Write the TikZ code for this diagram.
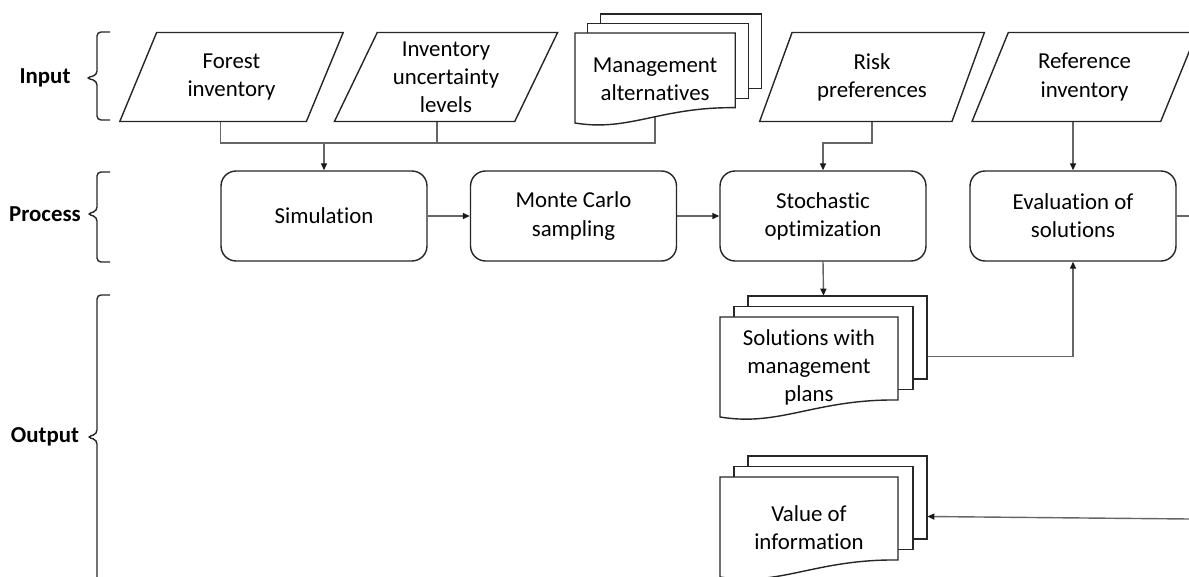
\documentclass[tikz,border=0pt]{standalone}
\usepackage{fontspec}
\setmainfont{Carlito}[Ligatures=NoCommon]
\usetikzlibrary{shapes.geometric,arrows.meta,fit,backgrounds}

\newcommand*{\xMax}{1189}
\newcommand*{\yMax}{577}

\tikzset{
  every node/.style={font=\fontsize{13}{16}\selectfont},
  inbox/.style={trapezium, trapezium left angle=65, trapezium right angle=115,
    trapezium stretches, draw=black!85, line width=0.8pt,
    minimum width=4.5cm, minimum height=1.78cm, align=center, inner sep=0pt},
  procbox/.style={rectangle, rounded corners=0.3cm, draw=black!85, line width=0.8pt,
    minimum width=4.12cm, minimum height=1.8cm, align=center},
  docline/.style={draw=black!85, line width=0.8pt, fill=white},
  doctext/.style={inner sep=0pt, align=center, yshift=-0.17cm},
  conn/.style={draw=black!60, line width=0.8pt},
  arr/.style={conn, -{Triangle[length=1.4mm,width=1.2mm,color=black!90]}},
  rowlabel/.style={font=\fontsize{13}{16}\selectfont\bfseries},
  bracket/.style={draw=black!85, line width=0.8pt, rounded corners=0.08cm},
}

% stack of documents: name, x, y (front top left), scale, text
\newcommand*{\docstack}[5]{%
  \begin{scope}[shift={(#2,#3)},scale=#4]
    \draw[docline] (28,-21) rectangle (207,62);
    \draw[docline] (14,-10.5) rectangle (193,72.5);
    \draw[docline] (0,0) -- (178,0) -- (178,83) .. controls (95,82) and (60,110) .. (0,100) -- cycle;
    \node[doctext, fit={(0,0) (178,100)}] (#1-f) {#5};
    \node[inner sep=0pt, fit={(0,-21) (207,100)}] (#1) {};
  \end{scope}}

\begin{document}
\begin{tikzpicture}[x=0.02cm, y=-0.02cm]
    \useasboundingbox (0,0) rectangle (\xMax,\yMax);

%   row labels and brackets
    \node[rowlabel] (lin) at (45,78) {Input};
    \node[rowlabel] (lproc) at (45,214) {Process};
    \node[rowlabel] (lout) at (45,437) {Output};

    \draw[bracket] (110,32) -- (97,32) -- (97,75) -- (86,78) -- (97,81) -- (97,120) -- (110,120);
    \draw[bracket] (110,172) -- (97,172) -- (97,211) -- (87,214) -- (97,217) -- (97,262) -- (110,262);
    \draw[bracket] (110,295) -- (97,295) -- (97,434) -- (87,437) -- (97,440) -- (97,590) -- (110,590);

%   input
    \node[inbox] (forest) at (231.5,77) {Forest\\inventory};
    \node[inbox] (invlevels) at (446,77) {Inventory\\uncertainty\\levels};
    \docstack{mgmt}{575}{33}{0.9}{Management\\alternatives}
    \node[inbox] (risk) at (872,77) {Risk\\preferences};
    \node[inbox] (reference) at (1084.5,77) {Reference\\inventory};

%   process
    \node[procbox] (sim) at (324,216) {Simulation};
    \node[procbox] (mc) at (573.5,216) {Monte Carlo\\sampling};
    \node[procbox] (stoch) at (823,216) {Stochastic\\optimization};
    \node[procbox] (eval) at (1073,216) {Evaluation of\\solutions};

%   output
    \docstack{sol}{720}{317}{1}{Solutions with\\management\\plans}
    \docstack{voi}{720}{477}{1}{Value of\\information}

    \coordinate (join) at (324,143);
    \coordinate (evalout) at (\xMax,216);
    \coordinate (voiin) at (\xMax,519);

    \begin{scope}[on background layer]
    \draw[conn] ([xshift=-0.22cm]forest.south) |- (join) -| (mgmt-f.center);
    \draw[conn] ([xshift=-0.18cm]invlevels.south) -- ([xshift=-0.18cm]invlevels.south |- join);
    \draw[arr] (join) -- (sim.north);
    \draw[arr] (sim) -- (mc);
    \draw[arr] (mc) -- (stoch);
    \draw[arr] (risk.south) -- (risk.south |- join) -| (stoch.north);
    \draw[arr] (eval.north |- reference.south) -- (eval.north);
    \draw[arr] (stoch.south) -- (sol.north);
    \draw[arr] (sol.east) -| (eval.south);
    \draw[conn] (eval.east) -- (evalout);
    \draw[arr] (voiin) -- (voi.east);
    \end{scope}

\end{tikzpicture}
\end{document}
